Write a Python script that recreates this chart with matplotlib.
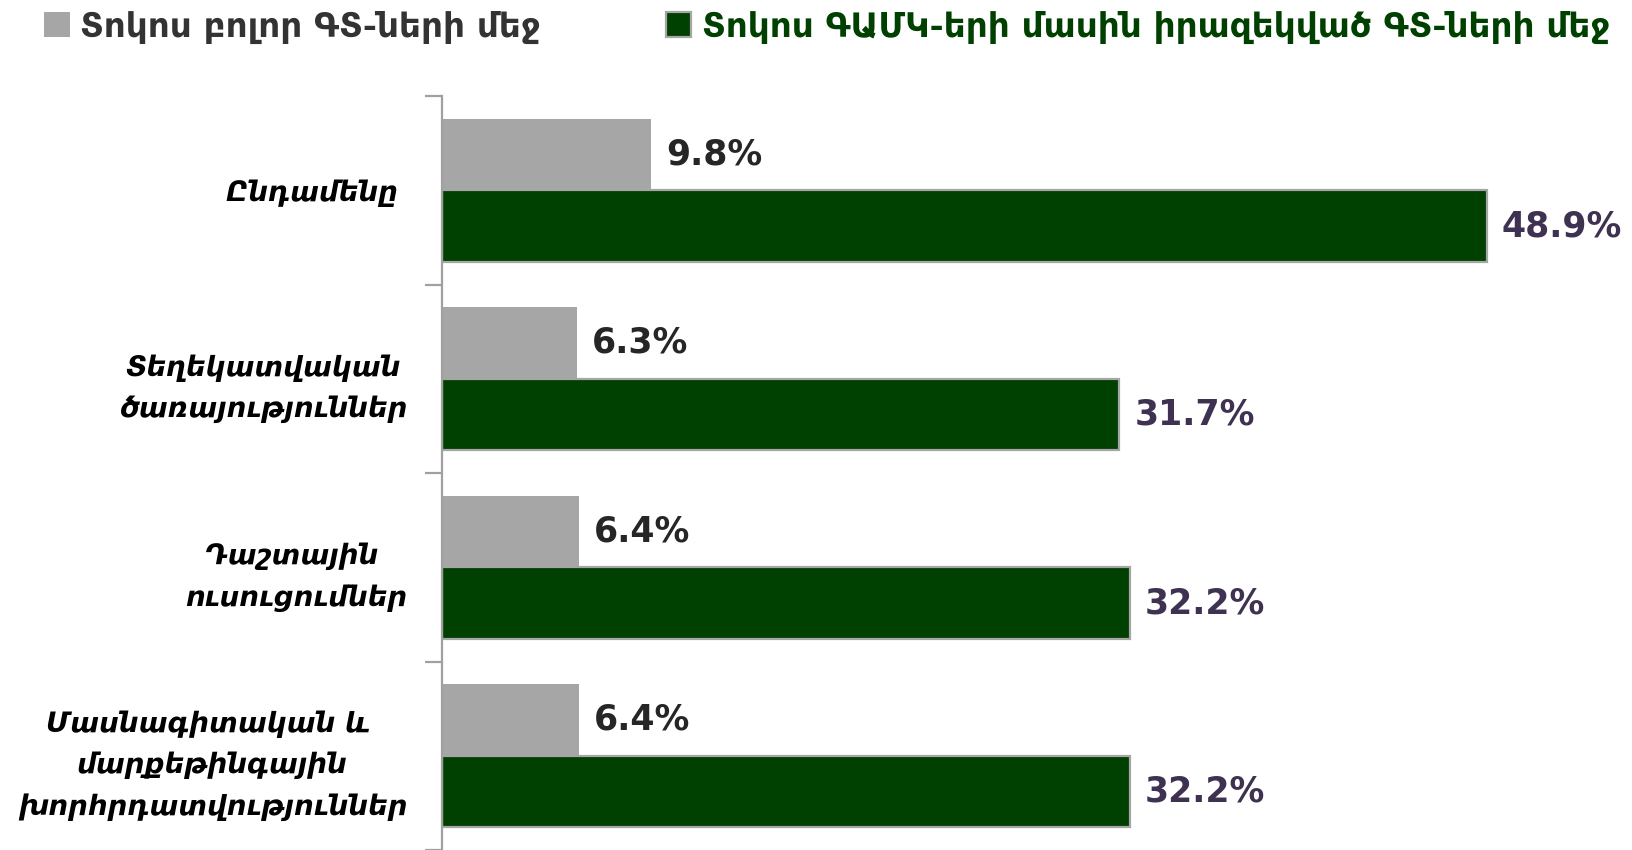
import matplotlib.pyplot as plt
import numpy as np

plt.rcParams['font.family'] = ['DejaVu Sans']

categories = ["Ընդամենը ",
              "Տեղեկատվական\nծառայություններ",
              "Դաշտային \nուսուցումներ",
              "Մասնագիտական և \nմարքեթինգային\nխորհրդատվություններ"]
all_groups = [9.8, 6.3, 6.4, 6.4]
aware_groups = [48.9, 31.7, 32.2, 32.2]
legend_labels = ["Տոկոս բոլոր ԳՏ-ների մեջ",
                 "Տոկոս ԳԱՄԿ-երի մասին իրազեկված ԳՏ-ների մեջ"]

gray = '#a6a6a6'
green = '#004000'

fig = plt.figure(figsize=(16.32, 8.5), dpi=100)
ax = fig.add_axes([442/1632, 0.0, 1 - 442/1632, 1 - 96/850])

y = np.arange(len(categories))
h = 0.38
b1 = ax.barh(y - 0.19, all_groups, height=h, color=gray, edgecolor='none',
             label=legend_labels[0])
b2 = ax.barh(y + 0.19, aware_groups, height=h, color=green, edgecolor=gray,
             linewidth=1.6, label=legend_labels[1])

for yi, v in zip(y, all_groups):
    ax.text(v + 0.7, yi - 0.19, f"{v:.1f}%", va='center', ha='left',
            fontsize=25, fontweight='bold', color='#262626')
for yi, v in zip(y, aware_groups):
    ax.text(v + 0.7, yi + 0.19, f"{v:.1f}%", va='center', ha='left',
            fontsize=25, fontweight='bold', color='#3f3151')

ax.set_xlim(0, 55.7)
ax.set_ylim(3.5, -0.5)
ax.set_yticks(y)
ax.set_yticklabels(categories, fontsize=20, fontweight='bold',
                   fontstyle='italic', multialignment='center',
                   linespacing=1.6)
ax.tick_params(axis='y', which='major', length=0, pad=25)
ax.set_yticks(np.arange(-0.5, 4.0, 1.0), minor=True)
ax.tick_params(axis='y', which='minor', length=12, width=1.6, color='#a0a0a0')
ax.set_xticks([])
for s in ['top', 'right', 'bottom']:
    ax.spines[s].set_visible(False)
ax.spines['left'].set_color('#a0a0a0')
ax.spines['left'].set_linewidth(1.6)

leg = fig.legend(handles=[b1, b2], loc='center left',
                 bbox_to_anchor=(44/1632, 1 - 27/850), ncol=2, frameon=False,
                 prop={'size': 24.7, 'weight': 'bold'}, borderpad=0,
                 handlelength=0.75, handleheight=0.75, handletextpad=0.3,
                 columnspacing=3.65, borderaxespad=0)
leg.get_texts()[0].set_color('#333333')
leg.get_texts()[1].set_color(green)

fig.savefig('out.png', dpi=100)
